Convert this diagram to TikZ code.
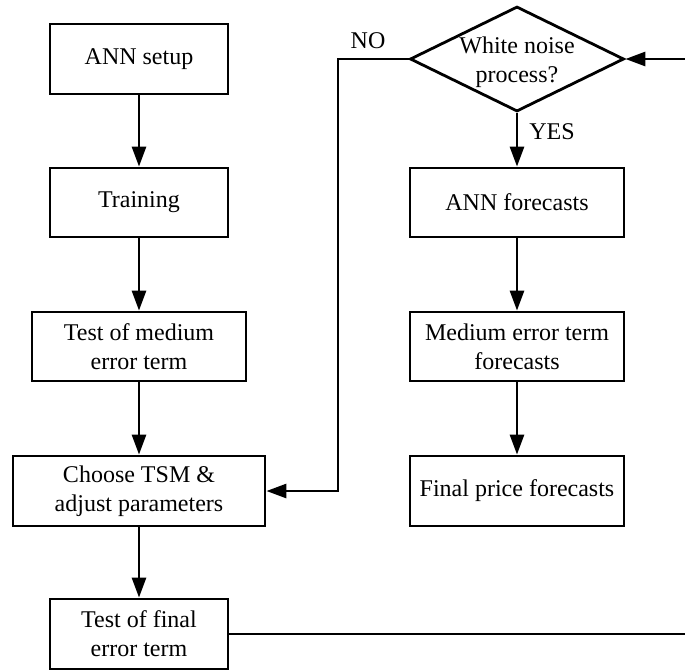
\documentclass[tikz,border=0pt]{standalone}
\usepackage{fontspec}
\setmainfont{Liberation Serif}
\usetikzlibrary{shapes.geometric,arrows.meta}
\begin{document}
\begin{tikzpicture}[x=1pt,y=-1pt,
  every node/.style={font=\fontsize{24}{29}\selectfont},
  box/.style={draw, line width=2.8pt, rectangle, align=center, inner sep=0pt},
  decision/.style={draw, line width=2.8pt, diamond, inner sep=0pt,
    minimum width=214pt, minimum height=105pt},
  flow/.style={line width=2.8pt, -{Triangle[length=20pt,width=14pt]}},
  plain/.style={line width=2.8pt},
  tag/.style={inner sep=0pt, align=center}]
\useasboundingbox (0,0) rectangle (685,670);
\clip (0,0) rectangle (685,670);

% left column
\node[box, minimum width=178pt, minimum height=70pt] (setup) at (139,59) {ANN setup};
\node[box, minimum width=178pt, minimum height=69pt] (train) at (139,202.5) {Training};
\node[box, minimum width=214pt, minimum height=69pt] (tmed) at (139,346.5) {Test of medium\\error term};
\node[box, minimum width=252pt, minimum height=70pt] (tsm) at (139,491) {Choose TSM \&\\adjust parameters};
\node[box, minimum width=178pt, minimum height=70pt] (tfin) at (139,634) {Test of final\\error term};

% right column: decision outline and its question
\node[decision] (dia) at (517,59) {};
\node[tag] (diatext) at (517,62) {White noise\\process?};
\node[box, minimum width=214pt, minimum height=69pt] (annf) at (517,202.5) {ANN forecasts};
\node[box, minimum width=214pt, minimum height=69pt] (medf) at (517,346.5) {Medium error term\\forecasts};
\node[box, minimum width=214pt, minimum height=70pt] (finp) at (517,491) {Final price forecasts};

% branch labels
\node[tag] (no) at (368,41) {NO};
\node[tag] (yes) at (552,132) {YES};

% free ends and bends
\coordinate (noturn) at (338,59);
\coordinate (inR) at (685,59);
\coordinate (outR) at (685,634);

% connectors
\draw[flow] (setup) -- (train);
\draw[flow] (train) -- (tmed);
\draw[flow] (tmed) -- (tsm);
\draw[flow] (tsm) -- (tfin);
\draw[flow] (dia.south) -- (annf);
\draw[flow] (annf) -- (medf);
\draw[flow] (medf) -- (finp);
\draw[flow] (dia.west) -- (noturn) |- (tsm.east);
\draw[flow] (inR) -- (dia.east);
\draw[plain] (tfin.east) -- (outR);
\end{tikzpicture}
\end{document}
